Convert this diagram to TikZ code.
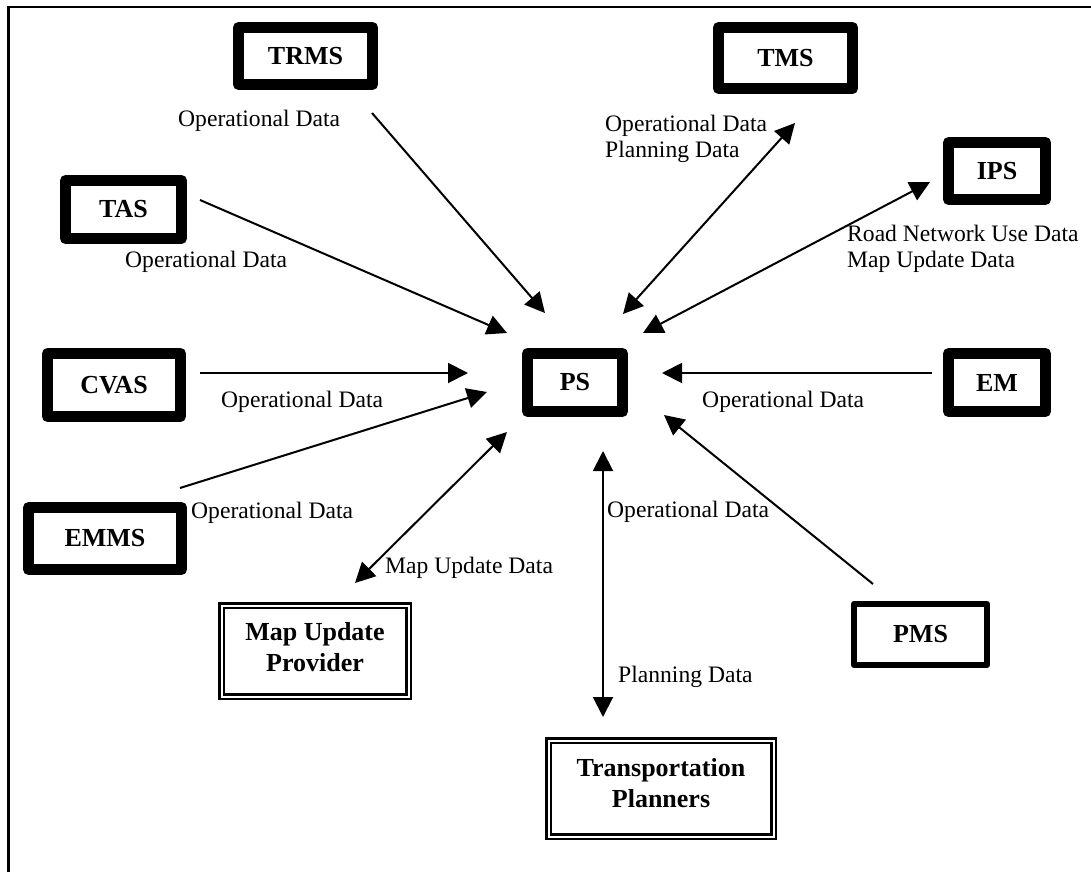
\documentclass[tikz,border=0pt]{standalone}
\usepackage{fontspec}
\setmainfont{Liberation Serif}
\usetikzlibrary{arrows.meta}
\begin{document}
\begin{tikzpicture}[x=1pt,y=-1pt,
  sysbox/.style={draw, line width=11pt, line join=round, inner sep=0pt, outer sep=0pt,
    font=\fontsize{26pt}{31pt}\selectfont\bfseries},
  thinbox/.style={sysbox, line width=6pt},
  extbox/.style={draw, double, double distance=2pt, line width=2.5pt, inner sep=0pt, outer sep=0pt},
  boxtext/.style={inner sep=0pt, align=center, font=\fontsize{26pt}{31pt}\selectfont\bfseries},
  flowlabel/.style={inner sep=0pt, font=\fontsize{23.6pt}{26pt}\selectfont},
  flow/.style={line width=2pt, -{Triangle[length=20pt,width=20pt]}},
  bothflow/.style={line width=2pt, {Triangle[length=20pt,width=20pt]}-{Triangle[length=20pt,width=20pt]}},
]
\useasboundingbox (0,0) rectangle (1091,872);

% page frame
\draw[line width=2.2pt] (8.5,872) -- (8.5,7) -- (1091,7);

% subsystems
\node[sysbox, minimum width=134pt, minimum height=57pt] (trms) at (305.5,56) {TRMS};
\node[sysbox, minimum width=134pt, minimum height=61pt] (tms) at (785.5,58) {TMS};
\node[sysbox, minimum width=97pt, minimum height=57pt] (ips) at (997,171) {IPS};
\node[sysbox, minimum width=116pt, minimum height=58pt] (tas) at (123.5,209.5) {TAS};
\node[sysbox, minimum width=133pt, minimum height=63pt] (cvas) at (114,385) {CVAS};
\node[sysbox, minimum width=95pt, minimum height=58pt] (ps) at (575,382.5) {PS};
\node[sysbox, minimum width=97pt, minimum height=58pt] (em) at (997,382.5) {EM};
\node[sysbox, minimum width=153pt, minimum height=62pt] (emms) at (105,538.5) {EMMS};
\node[thinbox, minimum width=133pt, minimum height=61pt] (pms) at (920.5,634.5) {PMS};

% external entities
\node[extbox, minimum width=187pt, minimum height=91pt] (mup) at (315,651) {};
\node[boxtext] (mup-text) at (315,646.7) {Map Update\\Provider};
\node[extbox, minimum width=225pt, minimum height=96pt] (tp) at (661,788.5) {};
\node[boxtext] (tp-text) at (661,782.7) {Transportation\\Planners};

% flow end points
\coordinate (trms-end) at (372,113);   \coordinate (ps-trms) at (545,313);
\coordinate (tms-end) at (795,123);    \coordinate (ps-tms) at (623,314);
\coordinate (ips-end) at (930,182);    \coordinate (ps-ips) at (643,333);
\coordinate (tas-end) at (200,200);    \coordinate (ps-tas) at (507,333);
\coordinate (cvas-end) at (200,373);   \coordinate (ps-cvas) at (468,373);
\coordinate (em-end) at (932,373);     \coordinate (ps-em) at (662,373);
\coordinate (emms-end) at (180,488);   \coordinate (ps-emms) at (487,392);
\coordinate (pms-end) at (873,584);    \coordinate (ps-pms) at (664,415);
\coordinate (mup-end) at (355,583);    \coordinate (ps-mup) at (507,432);
\coordinate (tp-end) at (603,717);     \coordinate (ps-tp) at (603,451);

% data flows
\draw[flow] (trms-end) -- (ps-trms);
\draw[bothflow] (ps-tms) -- (tms-end);
\draw[bothflow] (ps-ips) -- (ips-end);
\draw[flow] (tas-end) -- (ps-tas);
\draw[flow] (cvas-end) -- (ps-cvas);
\draw[flow] (em-end) -- (ps-em);
\draw[flow] (emms-end) -- (ps-emms);
\draw[flow] (pms-end) -- (ps-pms);
\draw[bothflow] (ps-mup) -- (mup-end);
\draw[bothflow] (ps-tp) -- (tp-end);

% flow labels
\node[flowlabel, anchor=base west] (l-trms) at (178,127) {Operational Data};
\node[flowlabel, anchor=north west, align=left] (l-tms) at (605,114.9) {Operational Data\\Planning Data};
\node[flowlabel, anchor=north west, align=left] (l-ips) at (847,224.9) {Road Network Use Data\\Map Update Data};
\node[flowlabel, anchor=base west] (l-tas) at (125,267) {Operational Data};
\node[flowlabel, anchor=base west] (l-cvas) at (221,407) {Operational Data};
\node[flowlabel, anchor=base west] (l-em) at (702,407) {Operational Data};
\node[flowlabel, anchor=base west] (l-emms) at (191,518) {Operational Data};
\node[flowlabel, anchor=base west] (l-pms) at (607,517) {Operational Data};
\node[flowlabel, anchor=base west] (l-map) at (385,573) {Map Update Data};
\node[flowlabel, anchor=base west] (l-plan) at (618,682) {Planning Data};
\end{tikzpicture}
\end{document}
